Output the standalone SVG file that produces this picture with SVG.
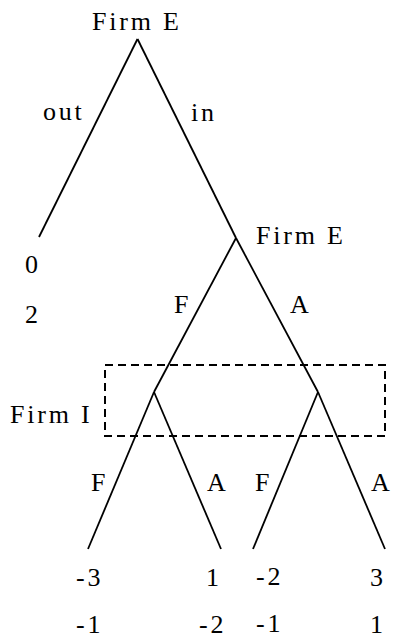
<svg xmlns="http://www.w3.org/2000/svg" width="395" height="643" viewBox="0 0 395 643" font-family="Liberation Serif, Times New Roman, serif" font-size="26">
<style>
.t{font-family:"Liberation Serif",serif;font-size:26px;letter-spacing:2.8px;fill:#000}
.e{fill:none;stroke:#000;stroke-width:1.8;stroke-linecap:butt}
.d{fill:none;stroke:#000;stroke-width:2;stroke-dasharray:8,5}
</style>
<rect width="395" height="643" fill="#fff"/>
<g id="connectors">
<line class="e" x1="137.5" y1="39" x2="39" y2="237"/>
<line class="e" x1="137.5" y1="39" x2="236" y2="238"/>
<line class="e" x1="236" y1="238" x2="154" y2="392"/>
<line class="e" x1="236" y1="238" x2="318" y2="392"/>
<line class="e" x1="154" y1="392" x2="88" y2="549"/>
<line class="e" x1="154" y1="392" x2="221" y2="549"/>
<line class="e" x1="318" y1="392" x2="253" y2="549"/>
<line class="e" x1="318" y1="392" x2="385" y2="549"/>
<text class="t" x="43" y="120">out</text>
<text class="t" x="191" y="121">in</text>
<text class="t" x="174" y="313">F</text>
<text class="t" x="290" y="313">A</text>
<text class="t" x="91" y="491">F</text>
<text class="t" x="207" y="491">A</text>
<text class="t" x="255" y="491">F</text>
<text class="t" x="371" y="491">A</text>
</g>
<g id="root"><text class="t" x="92" y="30">Firm E</text></g>
<g id="firmE2"><text class="t" x="256" y="244">Firm E</text></g>
<g id="firmI">
<rect class="d" x="105" y="365" width="280" height="71"/>
<text class="t" x="10" y="423">Firm I</text>
</g>
<g id="t-out"><text class="t" x="25" y="273">0</text><text class="t" x="25" y="323">2</text></g>
<g id="t-FF"><text class="t" x="76" y="586">-3</text><text class="t" x="76" y="633">-1</text></g>
<g id="t-FA"><text class="t" x="206" y="586">1</text><text class="t" x="199" y="633">-2</text></g>
<g id="t-AF"><text class="t" x="256" y="585">-2</text><text class="t" x="256" y="632">-1</text></g>
<g id="t-AA"><text class="t" x="370" y="586">3</text><text class="t" x="370" y="633">1</text></g>
</svg>
